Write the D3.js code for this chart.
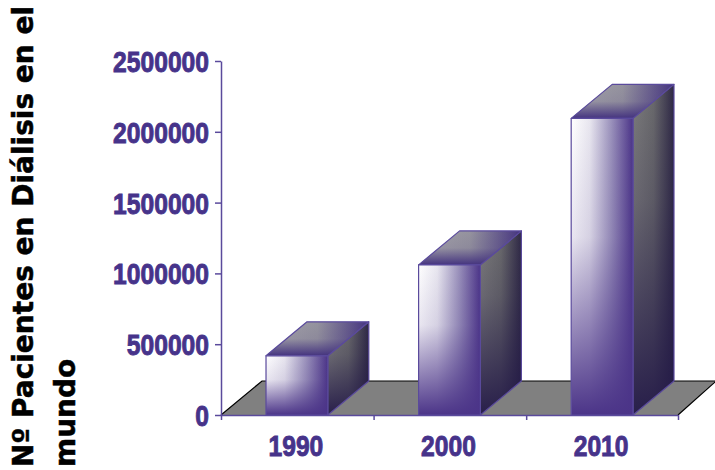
<!DOCTYPE html>
<html>
<head>
<meta charset="utf-8">
<script src="https://cdnjs.cloudflare.com/ajax/libs/d3/7.8.5/d3.min.js"></script>
<style>
html, body { margin: 0; padding: 0; background: #fff; }
svg { display: block; }
.axis path, .axis line { stroke: #5a4a9c; stroke-width: 1.5px; }
.axis text, .year { font-family: "Liberation Sans", sans-serif; font-weight: bold; fill: #46338a; stroke: #46338a; stroke-width: .9px; font-size: 29px; }
.title { font-family: "DejaVu Sans", sans-serif; font-weight: bold; font-size: 28px; fill: #000; stroke: #000; stroke-width: .5px; }
</style>
</head>
<body>
<script>
var years = ["1990", "2000", "2010"],
  patients = [418000, 1060000, 2095000],
  yTicks = [0, 500000, 1000000, 1500000, 2000000, 2500000],
  titleLines = ["Nº Pacientes en Diálisis en el", "mundo"];

var width = 715, height = 470,
  plotLeft = 221, plotRight = 678, plotTop = 61, plotBottom = 415,
  depthX = 41, depthY = 34,
  digitWidth = 13.7,
  purple = "#4b3488", outline = "#5a4a9c";

var svg = d3.select("body").append("svg")
  .attr("width", width)
  .attr("height", height);

var x = d3.scaleBand().domain(years).range([plotLeft, plotRight]).paddingInner(0.595).paddingOuter(0.295),
  y = d3.scaleLinear().domain([0, 2500000]).range([plotBottom, plotTop]);

// squeeze digits, no narrow face around
var squeeze = function(sel){
  sel.attr("textLength", function(){ return this.textContent.length * digitWidth; })
    .attr("lengthAdjust", "spacingAndGlyphs");
};

// gradients, a side one with a vertical fade laid over it
var defs = svg.append("defs");

var gradient = function(id, x2, y2, stops){
  var g = defs.append("linearGradient")
    .attr("id", id)
    .attr("x1", 0).attr("y1", 0)
    .attr("x2", x2).attr("y2", y2);
  stops.forEach(function(s){
    g.append("stop")
      .attr("offset", s[0])
      .attr("stop-color", s[1])
      .attr("stop-opacity", s[2] === undefined ? 1 : s[2]);
  });
};

gradient("frontH", 1, 0, [[0, "#ffffff"], [0.3, "#e8e6ef"], [0.65, "#9a91bb"], [1, purple]]);
gradient("frontV", 0, 1, [[0, purple, 0], [0.4, purple, 0.12], [1, purple, 1]]);
gradient("sideH", 1, 0, [[0, "#7c7c7c"], [0.5, "#6a6a6c"], [1, "#2e2845"]]);
gradient("sideV", 0, 1, [[0, "#241a48", 0], [0.35, "#241a48", 0.2], [1, "#241a48", 0.95]]);
gradient("topH", 1, 0, [[0, "#a5a4aa"], [0.5, "#95939e"], [1, "#44337f"]]);
gradient("topV", 0, 1, [[0, "#44337f", 0], [0.5, "#44337f", 0.1], [1, "#44337f", 1]]);

// floor
var floor = d3.path();
floor.moveTo(plotLeft, plotBottom);
floor.lineTo(plotLeft + depthX, plotBottom - depthY);
floor.lineTo(width, plotBottom - depthY);
floor.lineTo(plotRight, plotBottom);
floor.closePath();
svg.append("path").attr("d", floor.toString()).attr("fill", "#808080");

var edge = d3.path();
edge.moveTo(plotLeft, plotBottom);
edge.lineTo(plotLeft + depthX, plotBottom - depthY);
edge.lineTo(width, plotBottom - depthY);
edge.moveTo(width, plotBottom - depthY + 1);
edge.lineTo(plotRight, plotBottom);
svg.append("path").attr("d", edge.toString())
  .attr("fill", "none").attr("stroke", "#000").attr("stroke-width", 1.2);

// axes
var yAxis = d3.axisLeft(y).tickValues(yTicks).tickFormat(d3.format("d")).tickSize(6).tickSizeOuter(0);
svg.append("g").attr("class", "axis")
  .attr("transform", "translate(" + plotLeft + ",0)")
  .call(yAxis)
  .selectAll("text").attr("x", -12).attr("dy", "0.36em").call(squeeze);

var boundaries = [plotLeft, plotLeft + x.step(), plotLeft + 2 * x.step(), plotRight];
var xAxisLine = d3.axisBottom(d3.scaleLinear().domain([plotLeft, plotRight]).range([plotLeft, plotRight]))
  .tickValues(boundaries).tickFormat("").tickSize(5).tickSizeOuter(0);
svg.append("g").attr("class", "axis")
  .attr("transform", "translate(0," + plotBottom + ")")
  .call(xAxisLine);

svg.append("g").selectAll("text.year")
  .data(years)
  .join("text")
  .attr("class", "year")
  .attr("x", function(d){ return x(d) + x.bandwidth() / 2 - 1; })
  .attr("y", plotBottom + 41)
  .attr("text-anchor", "middle")
  .text(function(d){ return d; })
  .call(squeeze);

// bars
var quad = function(pts){
  var p = d3.path();
  pts.forEach(function(c, i){ i ? p.lineTo(c[0], c[1]) : p.moveTo(c[0], c[1]); });
  p.closePath();
  return p.toString();
};

var bar = svg.append("g").selectAll("g")
  .data(years.map(function(d, i){ return {year: d, value: patients[i]}; }))
  .join("g");

var sidePts = function(d){
  var x1 = x(d.year) + x.bandwidth(), t = y(d.value);
  return [[x1, t], [x1 + depthX, t - depthY], [x1 + depthX, plotBottom - depthY], [x1, plotBottom]];
};
var topPts = function(d){
  var x0 = x(d.year), x1 = x0 + x.bandwidth(), t = y(d.value);
  return [[x0, t], [x0 + depthX, t - depthY], [x1 + depthX, t - depthY], [x1, t]];
};
var frontPts = function(d){
  var x0 = x(d.year), x1 = x0 + x.bandwidth(), t = y(d.value);
  return [[x0, t], [x1, t], [x1, plotBottom], [x0, plotBottom]];
};

[[sidePts, "sideH", "sideV"], [topPts, "topH", "topV"], [frontPts, "frontH", "frontV"]].forEach(function(f){
  bar.append("path").attr("d", function(d){ return quad(f[0](d)); }).attr("fill", "url(#" + f[1] + ")");
  bar.append("path").attr("d", function(d){ return quad(f[0](d)); }).attr("fill", "url(#" + f[2] + ")")
    .attr("stroke", outline).attr("stroke-width", 1.2).attr("stroke-linejoin", "round");
});

// rotated title
svg.append("g")
  .attr("transform", "translate(33,467) rotate(-90)")
  .selectAll("text")
  .data(titleLines)
  .join("text")
  .attr("class", "title")
  .attr("x", 0)
  .attr("y", function(d, i){ return i * 42; })
  .text(function(d){ return d; });
</script>
</body>
</html>
